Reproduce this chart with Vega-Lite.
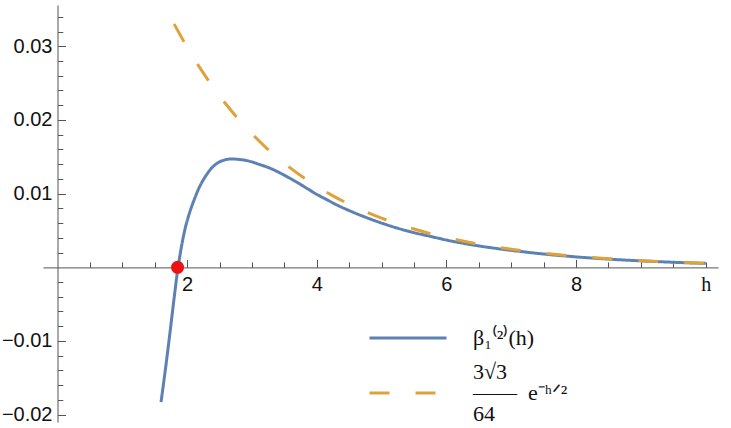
{
  "$schema": "https://vega.github.io/schema/vega-lite/v6.json",
  "width": 675,
  "height": 417,
  "autosize": "none",
  "padding": {"left": 43, "top": 5, "right": 13, "bottom": 6},
  "background": "white",
  "config": {
    "view": {"stroke": null},
    "axis": {"grid": false, "title": null, "domainColor": "#555555", "tickColor": "#555555", "domainWidth": 1, "tickWidth": 1},
    "style": {"guide-label": {"lineHeight": 21, "dy": -21}}
  },
  "datasets": {
    "curves": [
      {"h": 1.597, "v": -0.0183, "s": "b"},
      {"h": 1.674, "v": -0.0132, "s": "b"},
      {"h": 1.736, "v": -0.0088, "s": "b"},
      {"h": 1.8, "v": -0.0041, "s": "b"},
      {"h": 1.852, "v": -0.0005, "s": "b"},
      {"h": 1.906, "v": 0.0025, "s": "b"},
      {"h": 1.957, "v": 0.0048, "s": "b"},
      {"h": 2.03, "v": 0.0072, "s": "b"},
      {"h": 2.11, "v": 0.0092, "s": "b"},
      {"h": 2.19, "v": 0.0109, "s": "b"},
      {"h": 2.28, "v": 0.0123, "s": "b"},
      {"h": 2.37, "v": 0.0134, "s": "b"},
      {"h": 2.46, "v": 0.0141, "s": "b"},
      {"h": 2.57, "v": 0.01455, "s": "b"},
      {"h": 2.69, "v": 0.0147, "s": "b"},
      {"h": 2.82, "v": 0.01462, "s": "b"},
      {"h": 2.97, "v": 0.01438, "s": "b"},
      {"h": 3.1, "v": 0.0140, "s": "b"},
      {"h": 3.25, "v": 0.01355, "s": "b"},
      {"h": 3.4, "v": 0.01295, "s": "b"},
      {"h": 3.55, "v": 0.01225, "s": "b"},
      {"h": 3.7, "v": 0.0115, "s": "b"},
      {"h": 3.85, "v": 0.0107, "s": "b"},
      {"h": 4.0, "v": 0.0099, "s": "b"},
      {"h": 4.15, "v": 0.0092, "s": "b"},
      {"h": 4.3, "v": 0.0085, "s": "b"},
      {"h": 4.5, "v": 0.0077, "s": "b"},
      {"h": 4.75, "v": 0.0068, "s": "b"},
      {"h": 5.0, "v": 0.006, "s": "b"},
      {"h": 5.25, "v": 0.0053, "s": "b"},
      {"h": 5.5, "v": 0.0047, "s": "b"},
      {"h": 5.75, "v": 0.0042, "s": "b"},
      {"h": 6.0, "v": 0.0037, "s": "b"},
      {"h": 6.5, "v": 0.0029, "s": "b"},
      {"h": 7.0, "v": 0.0023, "s": "b"},
      {"h": 7.5, "v": 0.0018, "s": "b"},
      {"h": 8.0, "v": 0.00141, "s": "b"},
      {"h": 8.5, "v": 0.00111, "s": "b"},
      {"h": 9.0, "v": 0.00087, "s": "b"},
      {"h": 9.5, "v": 0.00068, "s": "b"},
      {"h": 10.0, "v": 0.00053, "s": "b"},
      {"h": 1.8, "v": 0.03301, "s": "d"},
      {"h": 2.0, "v": 0.02987, "s": "d"},
      {"h": 2.2, "v": 0.02703, "s": "d"},
      {"h": 2.4, "v": 0.02445, "s": "d"},
      {"h": 2.6, "v": 0.02213, "s": "d"},
      {"h": 2.8, "v": 0.02002, "s": "d"},
      {"h": 3.0, "v": 0.01812, "s": "d"},
      {"h": 3.2, "v": 0.01639, "s": "d"},
      {"h": 3.4, "v": 0.01483, "s": "d"},
      {"h": 3.6, "v": 0.01342, "s": "d"},
      {"h": 3.8, "v": 0.01214, "s": "d"},
      {"h": 4.0, "v": 0.01099, "s": "d"},
      {"h": 4.25, "v": 0.0097, "s": "d"},
      {"h": 4.5, "v": 0.00856, "s": "d"},
      {"h": 4.75, "v": 0.00755, "s": "d"},
      {"h": 5.0, "v": 0.00666, "s": "d"},
      {"h": 5.5, "v": 0.00519, "s": "d"},
      {"h": 6.0, "v": 0.00404, "s": "d"},
      {"h": 6.5, "v": 0.00315, "s": "d"},
      {"h": 7.0, "v": 0.00245, "s": "d"},
      {"h": 7.5, "v": 0.00191, "s": "d"},
      {"h": 8.0, "v": 0.00149, "s": "d"},
      {"h": 8.5, "v": 0.00116, "s": "d"},
      {"h": 9.0, "v": 0.0009, "s": "d"},
      {"h": 9.5, "v": 0.0007, "s": "d"},
      {"h": 10.0, "v": 0.00055, "s": "d"}
    ]
  },
  "layer": [
    {
      "data": {"name": "curves"},
      "transform": [{"filter": "datum.s == 'b'"}],
      "mark": {"type": "line", "interpolate": "monotone", "strokeWidth": 3},
      "encoding": {
        "x": {"field": "h", "type": "quantitative", "scale": {"domain": [-0.224, 10.19], "nice": false, "zero": false},
          "axis": {"orient": "bottom", "offset": -154.6, "values": [2, 4, 6, 8, 10], "ticks": false, "domain": true,
            "labelExpr": "datum.value == 10 ? 'h' : datum.label", "labelFontSize": 20,
            "labelFont": {"condition": {"test": "datum.value == 10", "value": "Liberation Serif"}, "value": "Liberation Sans"},
            "labelColor": "#111111", "labelPadding": 28, "labelFlush": false, "labelOverlap": false}},
        "y": {"field": "v", "type": "quantitative", "scale": {"domain": [-0.021, 0.0356], "nice": false, "zero": false},
          "axis": {"orient": "left", "offset": -14.5, "values": [-0.02, -0.01, 0.01, 0.02, 0.03], "ticks": false, "domain": true,
            "labelExpr": "format(datum.value, '.2f')", "labelFontSize": 20, "labelFont": "Liberation Sans", "labelOffset": 21,
            "labelColor": "#111111", "labelPadding": 5.5, "labelFlush": false, "labelOverlap": false}},
        "color": {"field": "s", "type": "nominal", "scale": {"domain": ["b", "d"], "range": ["#5E81B5", "#DDA33A"]},
          "legend": {"orient": "none", "legendX": 325, "legendY": 293, "title": null, "symbolType": "stroke", "symbolSize": 5929,
            "symbolStrokeWidth": 3, "labelFont": "Liberation Serif", "labelFontSize": 22, "labelOffset": 25, "labelLimit": 0, "padding": 0, "rowPadding": 4, "labelColor": "#111111",
            "labelExpr": "datum.value == 'b' ? ['\u2002', 'β₁⁽²⁾(h)'] : ['\u20093√3', '——\u2002e⁻ʰᐟ²', '\u200264']"}},
        "strokeDash": {"field": "s", "type": "nominal", "scale": {"domain": ["b", "d"], "range": [[1, 0], [20, 26]]},
          "legend": {"orient": "none", "legendX": 325, "legendY": 293, "title": null, "symbolType": "stroke", "symbolSize": 5929,
            "symbolStrokeWidth": 3, "labelFont": "Liberation Serif", "labelFontSize": 22, "labelOffset": 25, "labelLimit": 0, "padding": 0, "rowPadding": 4, "labelColor": "#111111",
            "labelExpr": "datum.value == 'b' ? ['\u2002', 'β₁⁽²⁾(h)'] : ['\u20093√3', '——\u2002e⁻ʰᐟ²', '\u200264']"}}
      }
    },
    {
      "data": {"name": "curves"},
      "transform": [{"filter": "datum.s == 'd'"}],
      "mark": {"type": "line", "interpolate": "monotone", "strokeWidth": 3, "strokeCap": "butt"},
      "encoding": {
        "x": {"field": "h", "type": "quantitative", "scale": {"domain": [-0.224, 10.19], "nice": false, "zero": false}, "axis": null},
        "y": {"field": "v", "type": "quantitative", "scale": {"domain": [-0.021, 0.0356], "nice": false, "zero": false}, "axis": null},
        "color": {"field": "s", "type": "nominal", "scale": {"domain": ["b", "d"], "range": ["#5E81B5", "#DDA33A"]}},
        "strokeDash": {"field": "s", "type": "nominal", "scale": {"domain": ["b", "d"], "range": [[1, 0], [20, 26]]}}
      }
    },
    {
      "data": {"values": [{"h": 1.852, "v": 0}]},
      "mark": {"type": "point", "filled": true, "size": 170, "color": "#EE1111", "opacity": 1},
      "encoding": {
        "x": {"field": "h", "type": "quantitative", "scale": {"domain": [-0.224, 10.19], "nice": false, "zero": false},
          "axis": {"orient": "bottom", "offset": -154.6, "values": [2, 4, 6, 8], "ticks": true, "tickSize": -8, "labels": false, "domain": false}},
        "y": {"field": "v", "type": "quantitative", "scale": {"domain": [-0.021, 0.0356], "nice": false, "zero": false},
          "axis": {"orient": "left", "offset": -14.5, "values": [-0.02, -0.01, 0.01, 0.02, 0.03], "ticks": true, "tickSize": -8, "labels": false, "domain": false}}
      }
    },
    {
      "mark": {"type": "point", "shape": "M -1 -1 L 0 0 L -1 1", "filled": false, "size": 30, "stroke": "#555555", "strokeWidth": 1, "opacity": 1},
      "encoding": {
        "x": {"datum": 10.19, "type": "quantitative", "scale": {"domain": [-0.224, 10.19], "nice": false, "zero": false},
          "axis": {"orient": "bottom", "offset": -154.6, "values": [0.5, 1, 1.5, 2.5, 3, 3.5, 4.5, 5, 5.5, 6.5, 7, 7.5, 8.5, 9, 9.5, 10], "ticks": true, "tickSize": -5.5, "labels": false, "domain": false}},
        "y": {"datum": 0, "type": "quantitative", "scale": {"domain": [-0.021, 0.0356], "nice": false, "zero": false},
          "axis": {"orient": "left", "offset": -14.5, "values": [-0.018, -0.016, -0.014, -0.012, -0.008, -0.006, -0.004, -0.002, 0.002, 0.004, 0.006, 0.008, 0.012, 0.014, 0.016, 0.018, 0.022, 0.024, 0.026, 0.028, 0.032, 0.034], "ticks": true, "tickSize": -5.3, "labels": false, "domain": false}}
      }
    },
    {
      "mark": {"type": "point", "shape": "M -1 1 L 0 0 L 1 1", "filled": false, "size": 30, "stroke": "#555555", "strokeWidth": 1, "opacity": 1},
      "encoding": {
        "x": {"datum": 0, "type": "quantitative", "scale": {"domain": [-0.224, 10.19], "nice": false, "zero": false}, "axis": null},
        "y": {"datum": 0.0356, "type": "quantitative", "scale": {"domain": [-0.021, 0.0356], "nice": false, "zero": false}, "axis": null}
      }
    }
  ],
  "resolve": {"scale": {"x": "independent", "y": "independent"}}
}
